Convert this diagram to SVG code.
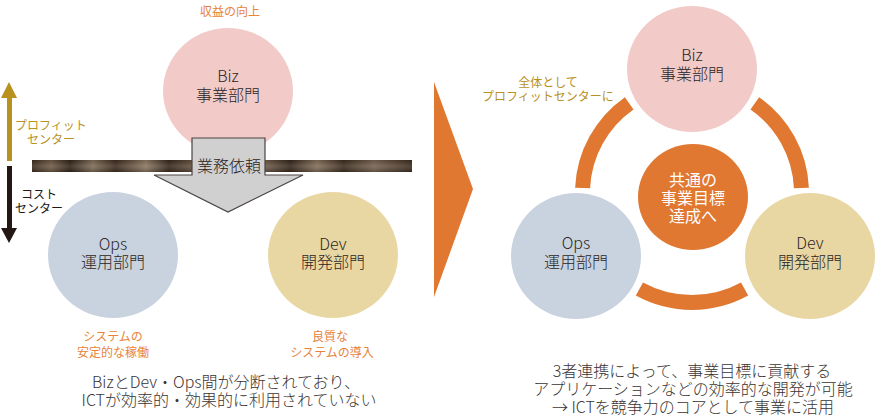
<svg xmlns="http://www.w3.org/2000/svg" width="882" height="417" viewBox="0 0 882 417">
<defs>
<style>
text{font-family:"Noto Sans CJK JP","Noto Sans",sans-serif;text-anchor:middle;font-weight:300}
.nt{font-size:16px;fill:#2b2523}
.sm{font-size:12px;font-weight:400}
.or{fill:#e8833a}
.gd{fill:#b8911f}
.bk{fill:#231815}
.bt{font-size:16px;fill:#3a3533}
.wt{fill:#fff;font-weight:400}
.ring{fill:none;stroke:#e07832;stroke-width:15}
.biz{fill:#f2cbc9}
.ops{fill:#c9d3e0}
.dev{fill:#e9d7a3}
</style>
<linearGradient id="bark" x1="0" y1="0" x2="1" y2="0">
<stop offset="0" stop-color="#3b2b1e"/>
<stop offset="0.05" stop-color="#6e5a46"/>
<stop offset="0.1" stop-color="#2f2218"/>
<stop offset="0.16" stop-color="#7d6a55"/>
<stop offset="0.22" stop-color="#3a2a1d"/>
<stop offset="0.3" stop-color="#8a7560"/>
<stop offset="0.36" stop-color="#35271b"/>
<stop offset="0.44" stop-color="#6f5b47"/>
<stop offset="0.52" stop-color="#3c2c1f"/>
<stop offset="0.6" stop-color="#7a6651"/>
<stop offset="0.68" stop-color="#33251a"/>
<stop offset="0.75" stop-color="#816d58"/>
<stop offset="0.82" stop-color="#3a2b1e"/>
<stop offset="0.9" stop-color="#756150"/>
<stop offset="1" stop-color="#3b2b1e"/>
</linearGradient>
<linearGradient id="barkv" x1="0" y1="0" x2="0" y2="1">
<stop offset="0" stop-color="#000" stop-opacity="0.1"/>
<stop offset="0.5" stop-color="#fff" stop-opacity="0.12"/>
<stop offset="1" stop-color="#000" stop-opacity="0.2"/>
</linearGradient>
</defs>
<rect width="882" height="417" fill="#fff"/>

<!-- Left side -->
<g id="axis-arrows">
<path d="M7,161 V98 H1 L9,82 L17,98 H12 V161 Z" fill="#b8911f"/>
<path d="M7,166 V228 H1 L9,243 L17,228 H12 V166 Z" fill="#231815"/>
<text class="sm gd"><tspan x="51" y="130">プロフィット</tspan><tspan x="51" y="144">センター</tspan></text>
<text class="sm bk"><tspan x="39" y="199">コスト</tspan><tspan x="39" y="213">センター</tspan></text>
</g>

<g id="left-biz">
<ellipse class="biz" cx="228" cy="91" rx="65" ry="63"/>
<text class="nt"><tspan x="228" y="82">Biz</tspan><tspan x="228" y="101">事業部門</tspan></text>
<text class="sm or" x="230" y="16">収益の向上</text>
</g>

<g id="left-ops">
<ellipse class="ops" cx="113" cy="255" rx="65" ry="63"/>
<text class="nt"><tspan x="113" y="250">Ops</tspan><tspan x="113" y="268">運用部門</tspan></text>
<text class="sm or"><tspan x="113" y="341">システムの</tspan><tspan x="113" y="357">安定的な稼働</tspan></text>
</g>

<g id="left-dev">
<ellipse class="dev" cx="333" cy="255" rx="65" ry="63"/>
<text class="nt"><tspan x="333" y="250">Dev</tspan><tspan x="333" y="268">開発部門</tspan></text>
<text class="sm or"><tspan x="330" y="341">良質な</tspan><tspan x="332" y="357">システムの導入</tspan></text>
</g>

<g id="wall">
<rect x="32" y="160" width="380" height="12" fill="url(#bark)"/>
<rect x="32" y="160" width="380" height="12" fill="url(#barkv)"/>
</g>

<g id="connectors-left">
<path d="M192,138 H265 V175 H303 L228,212 L154,175 H192 Z" fill="#d1d0d0" stroke="#4a4443" stroke-width="1.2"/>
<text class="nt" x="229" y="172">業務依頼</text>
</g>

<g id="left-caption">
<text class="bt"><tspan x="226" y="388">BizとDev・Ops間が分断されており、</tspan><tspan x="229" y="406">ICTが効率的・効果的に利用されていない</tspan></text>
</g>

<!-- Middle chevron -->
<g id="transition">
<path d="M434,82 L473,189 L434,297 Z" fill="#e07832"/>
</g>

<!-- Right side -->
<g id="connectors">
<path class="ring" d="M582.6,188 A109.5,109.5 0 0 1 629.2,103.3"/>
<path class="ring" d="M754.8,103.3 A109.5,109.5 0 0 1 801.4,188"/>
<path class="ring" d="M744.6,289 A109.5,109.5 0 0 1 639.4,289"/>
</g>

<g id="goal">
<ellipse cx="693" cy="197" rx="55" ry="53" fill="#e07832"/>
<text class="nt wt"><tspan x="693" y="186">共通の</tspan><tspan x="693" y="204">事業目標</tspan><tspan x="693" y="222">達成へ</tspan></text>
</g>

<g id="right-biz">
<ellipse class="biz" cx="692" cy="69" rx="65" ry="63"/>
<text class="nt"><tspan x="692" y="61">Biz</tspan><tspan x="692" y="80">事業部門</tspan></text>
<text class="sm gd"><tspan x="548" y="87">全体として</tspan><tspan x="548" y="101">プロフィットセンターに</tspan></text>
</g>

<g id="right-ops">
<ellipse class="ops" cx="576" cy="256" rx="65" ry="63"/>
<text class="nt"><tspan x="576" y="249">Ops</tspan><tspan x="576" y="268">運用部門</tspan></text>
</g>

<g id="right-dev">
<ellipse class="dev" cx="810" cy="256" rx="65" ry="63"/>
<text class="nt"><tspan x="810" y="249">Dev</tspan><tspan x="810" y="268">開発部門</tspan></text>
</g>

<g id="right-caption">
<text class="bt"><tspan x="692" y="377">3者連携によって、事業目標に貢献する</tspan><tspan x="693" y="395">アプリケーションなどの効率的な開発が可能</tspan><tspan x="693" y="413">→ ICTを競争力のコアとして事業に活用</tspan></text>
</g>
</svg>
